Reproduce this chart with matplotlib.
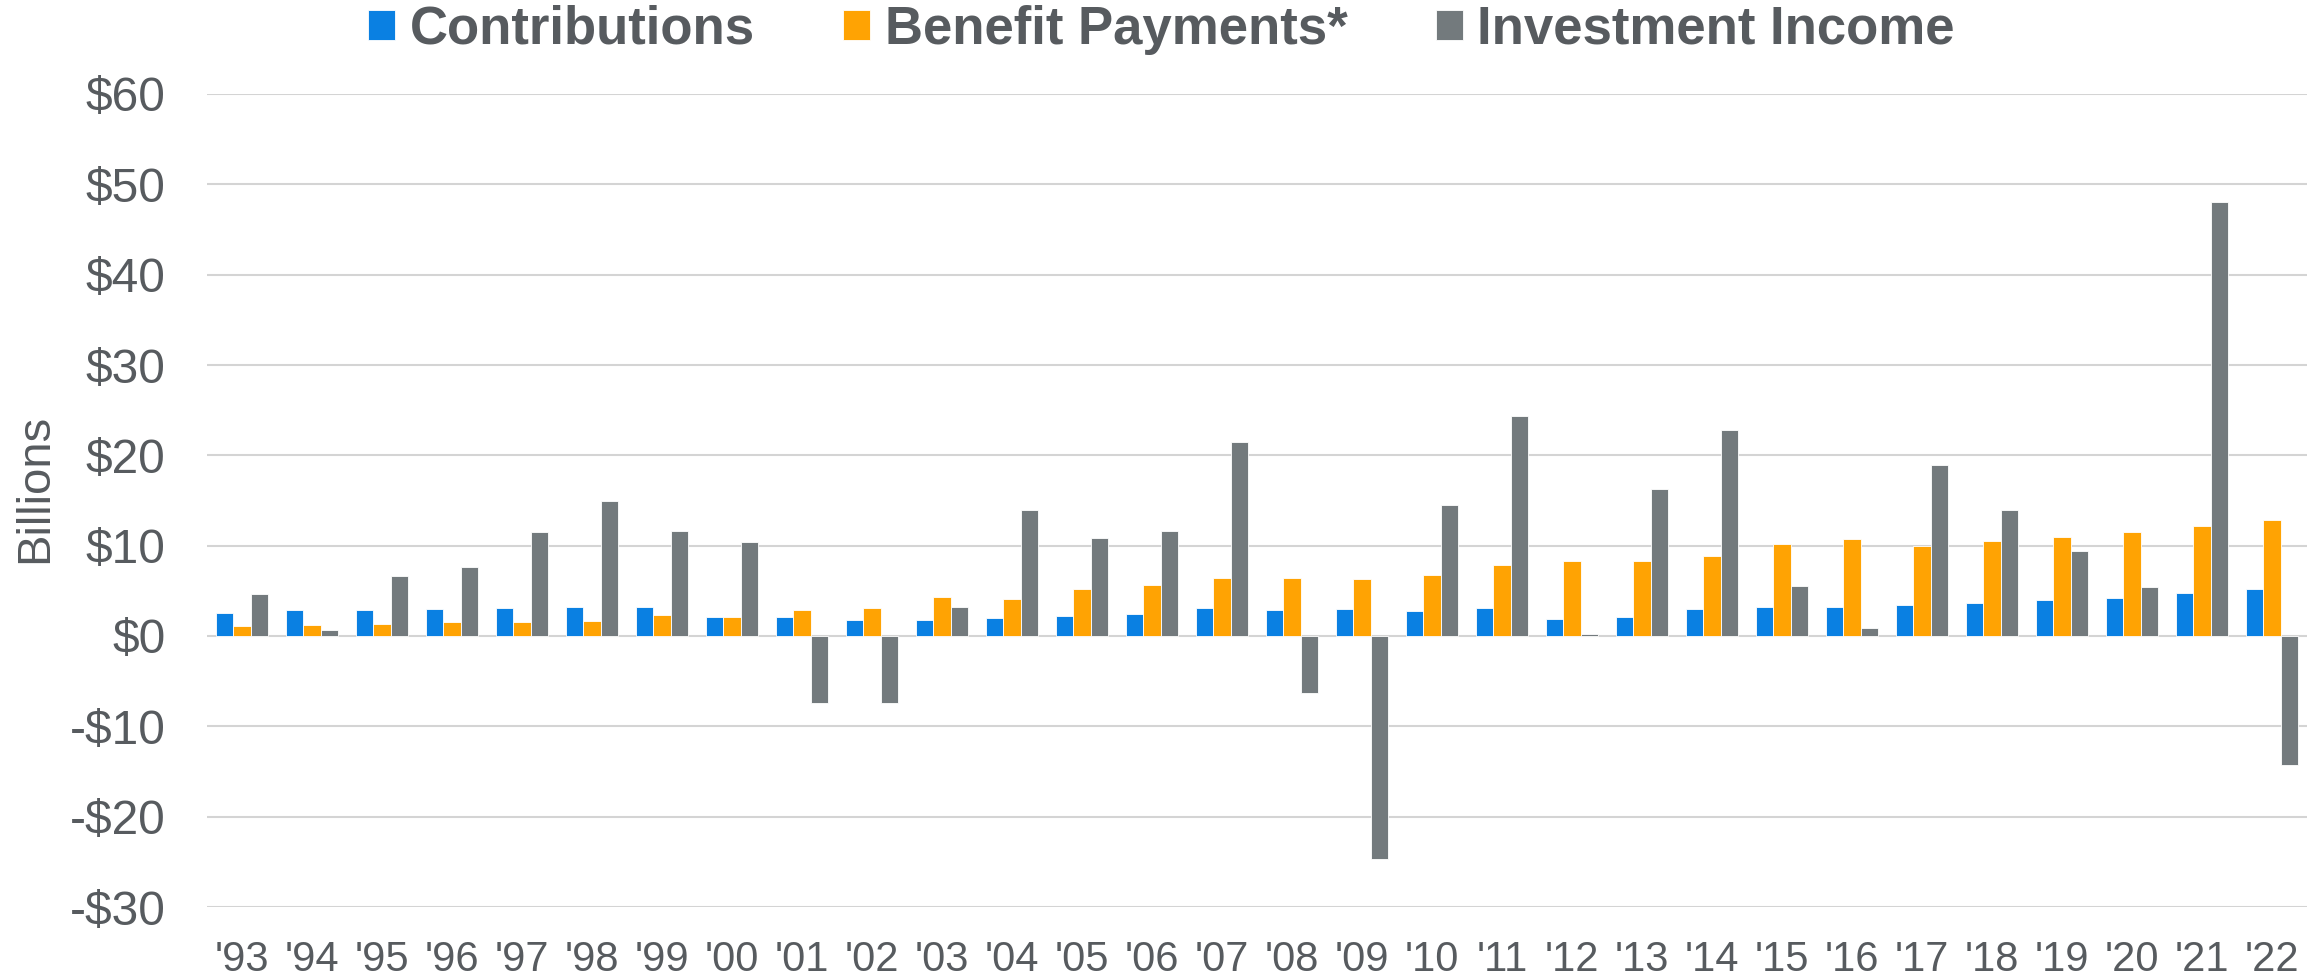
import numpy as np
import matplotlib.pyplot as plt

plt.rcParams['font.family'] = ['Liberation Sans', 'DejaVu Sans']

# --- data (billions of dollars) ---
years = ["'93", "'94", "'95", "'96", "'97", "'98", "'99", "'00", "'01", "'02",
         "'03", "'04", "'05", "'06", "'07", "'08", "'09", "'10", "'11", "'12",
         "'13", "'14", "'15", "'16", "'17", "'18", "'19", "'20", "'21", "'22"]
contributions = [2.6, 2.85, 2.9, 3.0, 3.05, 3.25, 3.2, 2.15, 2.1, 1.75,
                 1.75, 1.95, 2.2, 2.4, 3.05, 2.9, 3.0, 2.8, 3.05, 1.9,
                 2.1, 3.0, 3.2, 3.25, 3.45, 3.7, 3.95, 4.2, 4.75, 5.2]
benefits = [1.1, 1.2, 1.3, 1.5, 1.55, 1.7, 2.3, 2.15, 2.85, 3.05,
            4.35, 4.15, 5.2, 5.6, 6.4, 6.4, 6.3, 6.8, 7.9, 8.3,
            8.3, 8.9, 10.2, 10.7, 10.0, 10.55, 10.95, 11.5, 12.2, 12.8]
investment = [4.6, 0.65, 6.6, 7.6, 11.5, 14.9, 11.6, 10.4, -7.4, -7.45,
              3.25, 14.0, 10.8, 11.6, 21.5, -6.3, -24.7, 14.5, 24.4, 0.25,
              16.3, 22.8, 5.5, 0.85, 18.9, 14.0, 9.4, 5.4, 48.0, -14.3]
y_ticks = list(range(-30, 61, 10))

BLUE = '#0A80E2'
ORANGE = '#FFA303'
GRAY = '#737A7D'
TEXT = '#575B5F'
GRID = '#D4D4D4'

W, H = 2323, 977
fig = plt.figure(figsize=(W / 100, H / 100), dpi=100)
ax = fig.add_axes([207 / W, 1 - 907 / H, 2100 / W, (907 - 94) / H])

x = np.arange(len(years))
w = 0.25
ax.bar(x - w, contributions, w, color=BLUE, edgecolor='white', linewidth=0.6,
       zorder=3, label='Contributions')
ax.bar(x, benefits, w, color=ORANGE, edgecolor='white', linewidth=0.6,
       zorder=3, label='Benefit Payments*')
ax.bar(x + w, investment, w, color=GRAY, edgecolor='white', linewidth=0.6,
       zorder=3, label='Investment Income')

ax.set_xlim(-0.5, len(years) - 0.5)
ax.set_ylim(-30, 60)
ax.set_xticks(x)
ax.set_xticklabels(years)
ax.set_yticks(y_ticks)
ax.set_yticklabels([('-$%d' % -v) if v < 0 else ('$%d' % v) for v in y_ticks])

ax.yaxis.grid(True, color=GRID, linewidth=1.5)
ax.set_axisbelow(True)
for s in ax.spines.values():
    s.set_visible(False)
ax.tick_params(length=0)
ax.tick_params(axis='y', labelsize=34.5, pad=30, colors=TEXT)
ax.tick_params(axis='x', labelsize=30, pad=24, colors=TEXT)

fig.text(35 / W, 0.5, 'Billions', rotation=90, ha='center', va='center',
         fontsize=34, color=TEXT)

fig.legend(loc='center', bbox_to_anchor=(0.5, 1 - 30 / H), ncol=3,
           frameon=False, prop={'size': 38, 'weight': 'bold'},
           labelcolor=TEXT, handlelength=0.51, handleheight=0.51,
           handletextpad=0.28, columnspacing=1.67, borderpad=0, borderaxespad=0)

fig.savefig('out.png', dpi=100)
